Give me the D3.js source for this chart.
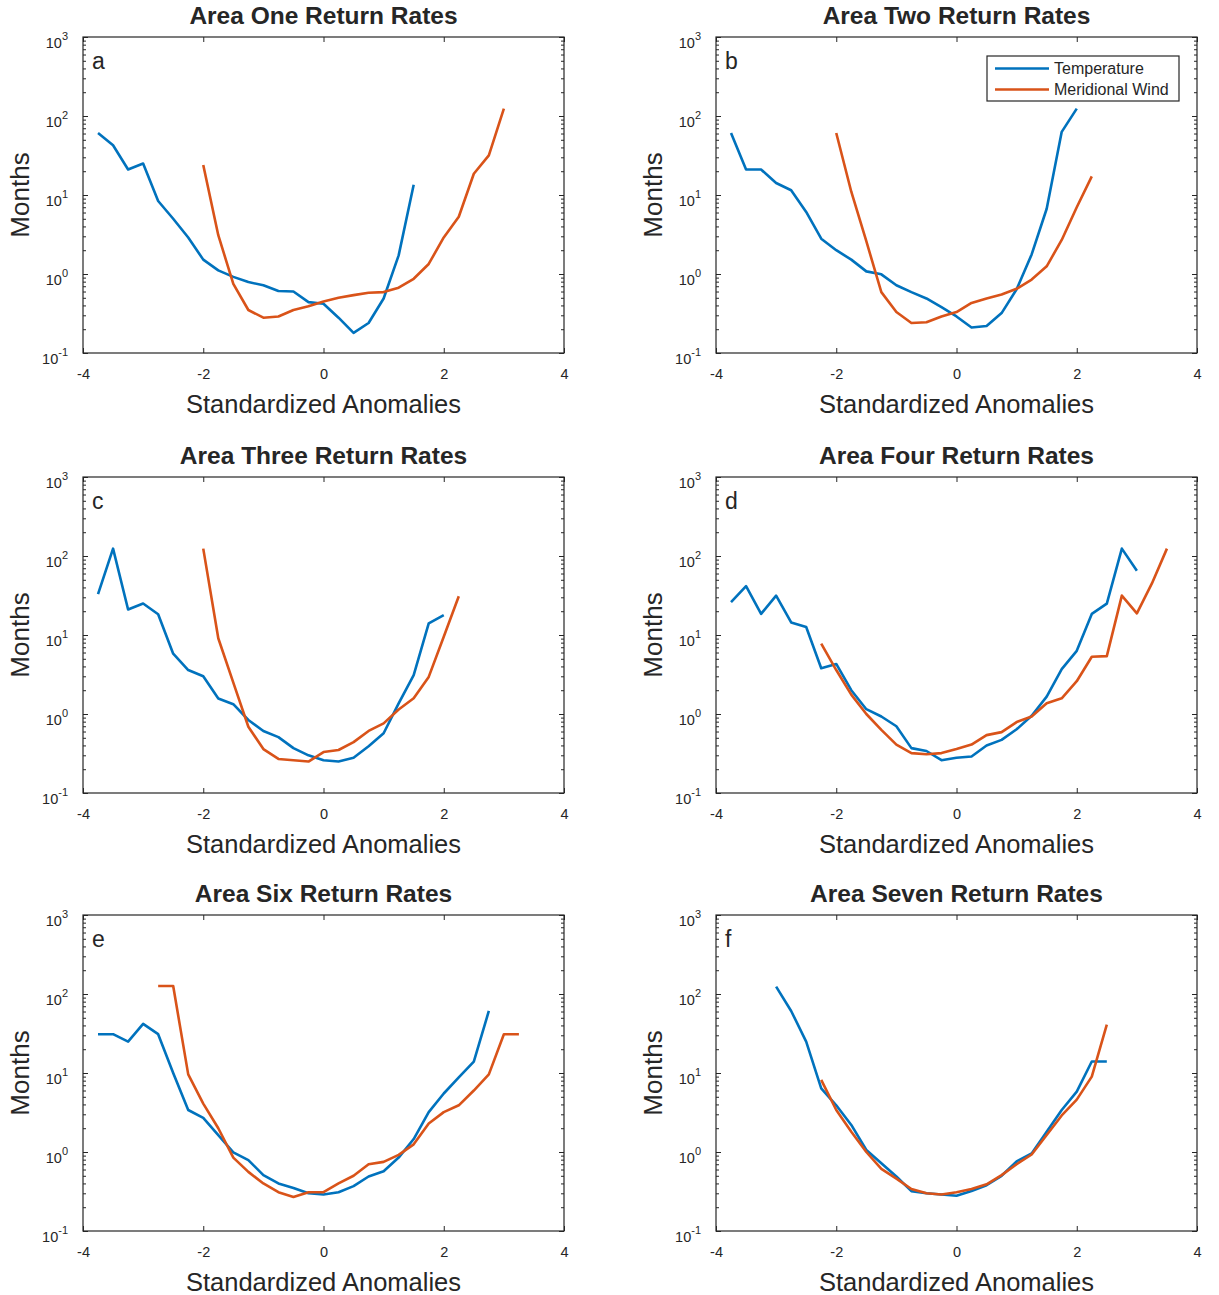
<!DOCTYPE html>
<html>
<head>
<meta charset="utf-8" />
<title>Return Rates</title>
<style>
html, body { margin: 0; padding: 0; background: #fff; }
svg { display: block; }
text { font-family: "Liberation Sans", Arial, Helvetica, sans-serif; fill: #262626; }
.axis path, .axis line { stroke: #262626; }
</style>
</head>
<body>
<svg width="1219" height="1295"></svg>

<script src="https://cdn.jsdelivr.net/npm/d3@7/dist/d3.min.js"></script>
<script>

// ---- data ----
var titles = ["Area One Return Rates", "Area Two Return Rates", "Area Three Return Rates",
              "Area Four Return Rates", "Area Six Return Rates", "Area Seven Return Rates"];
var letters = ["a", "b", "c", "d", "e", "f"];
var seriesNames = ["Temperature", "Meridional Wind"];
var xTicks = [-4, -2, 0, 2, 4];
var yTicks = [0.1, 1, 10, 100, 1000];
var yTickExp = ["-1", "0", "1", "2", "3"];

// panel a
var tempXa = [-3.75,-3.5,-3.25,-3,-2.75,-2.5,-2.25,-2,-1.75,-1.5,-1.25,-1,-0.75,-0.5,-0.25,0,0.25,0.5,0.75,1,1.25,1.5];
var tempYa = [61,42.6,21,25,8.4,5.0,2.9,1.52,1.11,0.92,0.79,0.72,0.61,0.60,0.44,0.42,0.28,0.18,0.24,0.49,1.72,13.5];
var windXa = [-2,-1.75,-1.5,-1.25,-1,-0.75,-0.5,-0.25,0,0.25,0.5,0.75,1,1.25,1.5,1.75,2,2.25,2.5,2.75,3];
var windYa = [24,3.1,0.75,0.35,0.28,0.29,0.35,0.39,0.45,0.50,0.54,0.58,0.59,0.67,0.87,1.34,2.9,5.3,18.6,31.8,124];

// panel b
var tempXb = [-3.75,-3.5,-3.25,-3,-2.75,-2.5,-2.25,-2,-1.75,-1.5,-1.25,-1,-0.75,-0.5,-0.25,0,0.25,0.5,0.75,1,1.25,1.5,1.75,2];
var tempYb = [61,21,21,14.2,11.5,6.1,2.8,2.0,1.52,1.08,0.99,0.72,0.59,0.49,0.38,0.29,0.21,0.22,0.32,0.64,1.77,6.7,63,124];
var windXb = [-2,-1.75,-1.5,-1.25,-1,-0.75,-0.5,-0.25,0,0.25,0.5,0.75,1,1.25,1.5,1.75,2,2.25];
var windYb = [61,11,2.6,0.59,0.33,0.24,0.245,0.29,0.33,0.43,0.49,0.55,0.65,0.85,1.25,2.7,7.0,17.2];

// panel c
var tempXc = [-3.75,-3.5,-3.25,-3,-2.75,-2.5,-2.25,-2,-1.75,-1.5,-1.25,-1,-0.75,-0.5,-0.25,0,0.25,0.5,0.75,1,1.25,1.5,1.75,2];
var tempYc = [33,124,21,25,18.3,5.8,3.6,3.0,1.57,1.33,0.84,0.61,0.51,0.37,0.30,0.26,0.25,0.28,0.39,0.57,1.36,3.1,14,17.8];
var windXc = [-2,-1.75,-1.5,-1.25,-1,-0.75,-0.5,-0.25,0,0.25,0.5,0.75,1,1.25,1.5,1.75,2,2.25];
var windYc = [124,9.1,2.5,0.69,0.36,0.27,0.26,0.25,0.33,0.35,0.44,0.61,0.76,1.14,1.58,2.95,9.5,31];

// panel d
var tempXd = [-3.75,-3.5,-3.25,-3,-2.75,-2.5,-2.25,-2,-1.75,-1.5,-1.25,-1,-0.75,-0.5,-0.25,0,0.25,0.5,0.75,1,1.25,1.5,1.75,2,2.25,2.5,2.75,3];
var tempYd = [26,41.6,18.5,31.5,14.4,12.6,3.8,4.3,2.0,1.15,0.93,0.70,0.37,0.34,0.26,0.28,0.29,0.40,0.47,0.64,0.95,1.66,3.7,6.3,18.5,25,124,65];
var windXd = [-2.25,-2,-1.75,-1.5,-1.25,-1,-0.75,-0.5,-0.25,0,0.25,0.5,0.75,1,1.25,1.5,1.75,2,2.25,2.5,2.75,3,3.25,3.5];
var windYd = [7.8,3.6,1.76,1.0,0.63,0.41,0.32,0.31,0.32,0.36,0.41,0.54,0.59,0.79,0.93,1.37,1.58,2.6,5.3,5.4,31.5,18.8,45,124];

// panel e
var tempXe = [-3.75,-3.5,-3.25,-3,-2.75,-2.5,-2.25,-2,-1.75,-1.5,-1.25,-1,-0.75,-0.5,-0.25,0,0.25,0.5,0.75,1,1.25,1.5,1.75,2,2.25,2.5,2.75];
var tempYe = [31,31,25,41.8,31,10,3.4,2.7,1.64,0.99,0.79,0.51,0.40,0.35,0.30,0.29,0.31,0.37,0.49,0.57,0.85,1.46,3.2,5.5,8.8,13.9,61];
var windXe = [-2.75,-2.5,-2.25,-2,-1.75,-1.5,-1.25,-1,-0.75,-0.5,-0.25,0,0.25,0.5,0.75,1,1.25,1.5,1.75,2,2.25,2.5,2.75,3,3.25];
var windYe = [126,126,9.6,4.1,2.0,0.85,0.56,0.40,0.31,0.27,0.31,0.31,0.40,0.50,0.70,0.75,0.92,1.25,2.3,3.2,3.9,6.0,9.6,31,31];

// panel f
var tempXf = [-3,-2.75,-2.5,-2.25,-2,-1.75,-1.5,-1.25,-1,-0.75,-0.5,-0.25,0,0.25,0.5,0.75,1,1.25,1.5,1.75,2,2.25,2.5];
var tempYf = [124,61,25,6.4,3.9,2.2,1.06,0.72,0.49,0.32,0.30,0.29,0.28,0.32,0.38,0.50,0.76,0.96,1.8,3.4,5.8,14,14];
var windXf = [-2.25,-2,-1.75,-1.5,-1.25,-1,-0.75,-0.5,-0.25,0,0.25,0.5,0.75,1,1.25,1.5,1.75,2,2.25,2.5];
var windYf = [8.2,3.4,1.8,1.0,0.61,0.46,0.34,0.30,0.29,0.31,0.34,0.39,0.51,0.70,0.93,1.64,2.9,4.6,9.0,41];

var tempX = [tempXa, tempXb, tempXc, tempXd, tempXe, tempXf];
var tempY = [tempYa, tempYb, tempYc, tempYd, tempYe, tempYf];
var windX = [windXa, windXb, windXc, windXd, windXe, windXf];
var windY = [windYa, windYb, windYc, windYd, windYe, windYf];

// ---- layout ----
var colors = ["#0072BD", "#D95319"];
var colLeft = [83, 716];
var rowTop = [37, 477, 915];
var pw = 481, ph = 316;

var svg = d3.select("svg");

var x = d3.scaleLinear().domain([-4, 4]).range([0, pw]);
var y = d3.scaleLog().domain([0.1, 1000]).range([ph, 0]);

// minor log ticks 2..9 in each decade
var minorTicks = [];
yTicks.slice(0, -1).forEach(function(d){
	for (var k = 2; k <= 9; k++) minorTicks.push(d * k);
});

var line = d3.line()
	.x(function(d){ return x(d[0]); })
	.y(function(d){ return y(d[1]); });

titles.forEach(function(title, i){
	var col = i % 2, row = Math.floor(i / 2);
	var g = svg.append("g")
		.attr("transform", "translate(" + [colLeft[col], rowTop[row]] + ")");

	// axes, ticks inward
	g.append("g").attr("class", "axis")
		.attr("transform", "translate(0," + ph + ")")
		.call(d3.axisBottom(x).tickValues(xTicks).tickSizeInner(-5).tickSizeOuter(0).tickPadding(16)
			.tickFormat(function(d){ return d; }))
		.call(function(s){ s.selectAll("text").style("font-size", "14.5px").attr("fill", "#404040"); s.select(".domain").remove(); });

	g.append("g").attr("class", "axis")
		.call(d3.axisTop(x).tickValues(xTicks).tickSizeInner(-5).tickSizeOuter(0).tickFormat(""))
		.call(function(s){ s.select(".domain").remove(); });

	var yl = g.append("g").attr("class", "axis")
		.call(d3.axisLeft(y).tickValues(yTicks).tickSizeInner(-5).tickSizeOuter(0).tickFormat(""));
	yl.select(".domain").remove();
	yl.selectAll(".tick").append("text")
		.attr("x", -15).attr("y", 10)
		.attr("text-anchor", "end")
		.attr("fill", "#404040")
		.style("font-size", "14.5px")
		.each(function(d, j){
			var t = d3.select(this);
			t.append("tspan").text("10");
			t.append("tspan").attr("dy", -8).style("font-size", "11px").text(yTickExp[j]);
		});

	g.append("g").attr("class", "axis")
		.call(d3.axisLeft(y).tickValues(minorTicks).tickSizeInner(-3).tickSizeOuter(0).tickFormat(""))
		.call(function(s){ s.select(".domain").remove(); });

	g.append("g").attr("class", "axis")
		.attr("transform", "translate(" + pw + ",0)")
		.call(d3.axisRight(y).tickValues(yTicks).tickSizeInner(-5).tickSizeOuter(0).tickFormat(""))
		.call(function(s){ s.select(".domain").remove(); });
	g.append("g").attr("class", "axis")
		.attr("transform", "translate(" + pw + ",0)")
		.call(d3.axisRight(y).tickValues(minorTicks).tickSizeInner(-3).tickSizeOuter(0).tickFormat(""))
		.call(function(s){ s.select(".domain").remove(); });

	// frame
	g.append("rect")
		.attr("width", pw).attr("height", ph)
		.attr("fill", "none").attr("stroke", "#262626").attr("stroke-width", 1.2);

	// series
	var sets = [d3.zip(tempX[i], tempY[i]), d3.zip(windX[i], windY[i])];
	sets.forEach(function(pts, k){
		g.append("path")
			.datum(pts)
			.attr("fill", "none")
			.attr("stroke", colors[k])
			.attr("stroke-width", 2.6)
			.attr("stroke-linejoin", "round")
			.attr("d", line);
	});

	// panel letter
	g.append("text")
		.attr("x", 9).attr("y", 32)
		.style("font-size", "23px")
		.text(letters[i]);

	// title
	g.append("text")
		.attr("x", pw / 2).attr("y", -13.5)
		.attr("text-anchor", "middle")
		.style("font-size", "24.5px").style("font-weight", "bold")
		.attr("fill", "#000")
		.text(title);

	// axis labels
	g.append("text")
		.attr("x", pw / 2).attr("y", ph + 60)
		.attr("text-anchor", "middle")
		.style("font-size", "25.5px")
		.text("Standardized Anomalies");

	g.append("text")
		.attr("transform", "translate(" + [-54.5, ph / 2] + ") rotate(-90)")
		.attr("text-anchor", "middle")
		.style("font-size", "26px")
		.text("Months");

	// legend only in panel b
	if (i === 1) {
		var lg = g.append("g").attr("transform", "translate(271,19)");
		lg.append("rect")
			.attr("width", 192).attr("height", 45)
			.attr("fill", "#fff").attr("stroke", "#262626").attr("stroke-width", 1.2);
		seriesNames.forEach(function(name, k){
			var ly = 12.5 + k * 21;
			lg.append("line")
				.attr("x1", 8).attr("x2", 62).attr("y1", ly).attr("y2", ly)
				.attr("stroke", colors[k]).attr("stroke-width", 2.6);
			lg.append("text")
				.attr("x", 67).attr("y", ly + 5.5)
				.style("font-size", "16px")
				.text(name);
		});
	}
});

</script>
</body>
</html>
